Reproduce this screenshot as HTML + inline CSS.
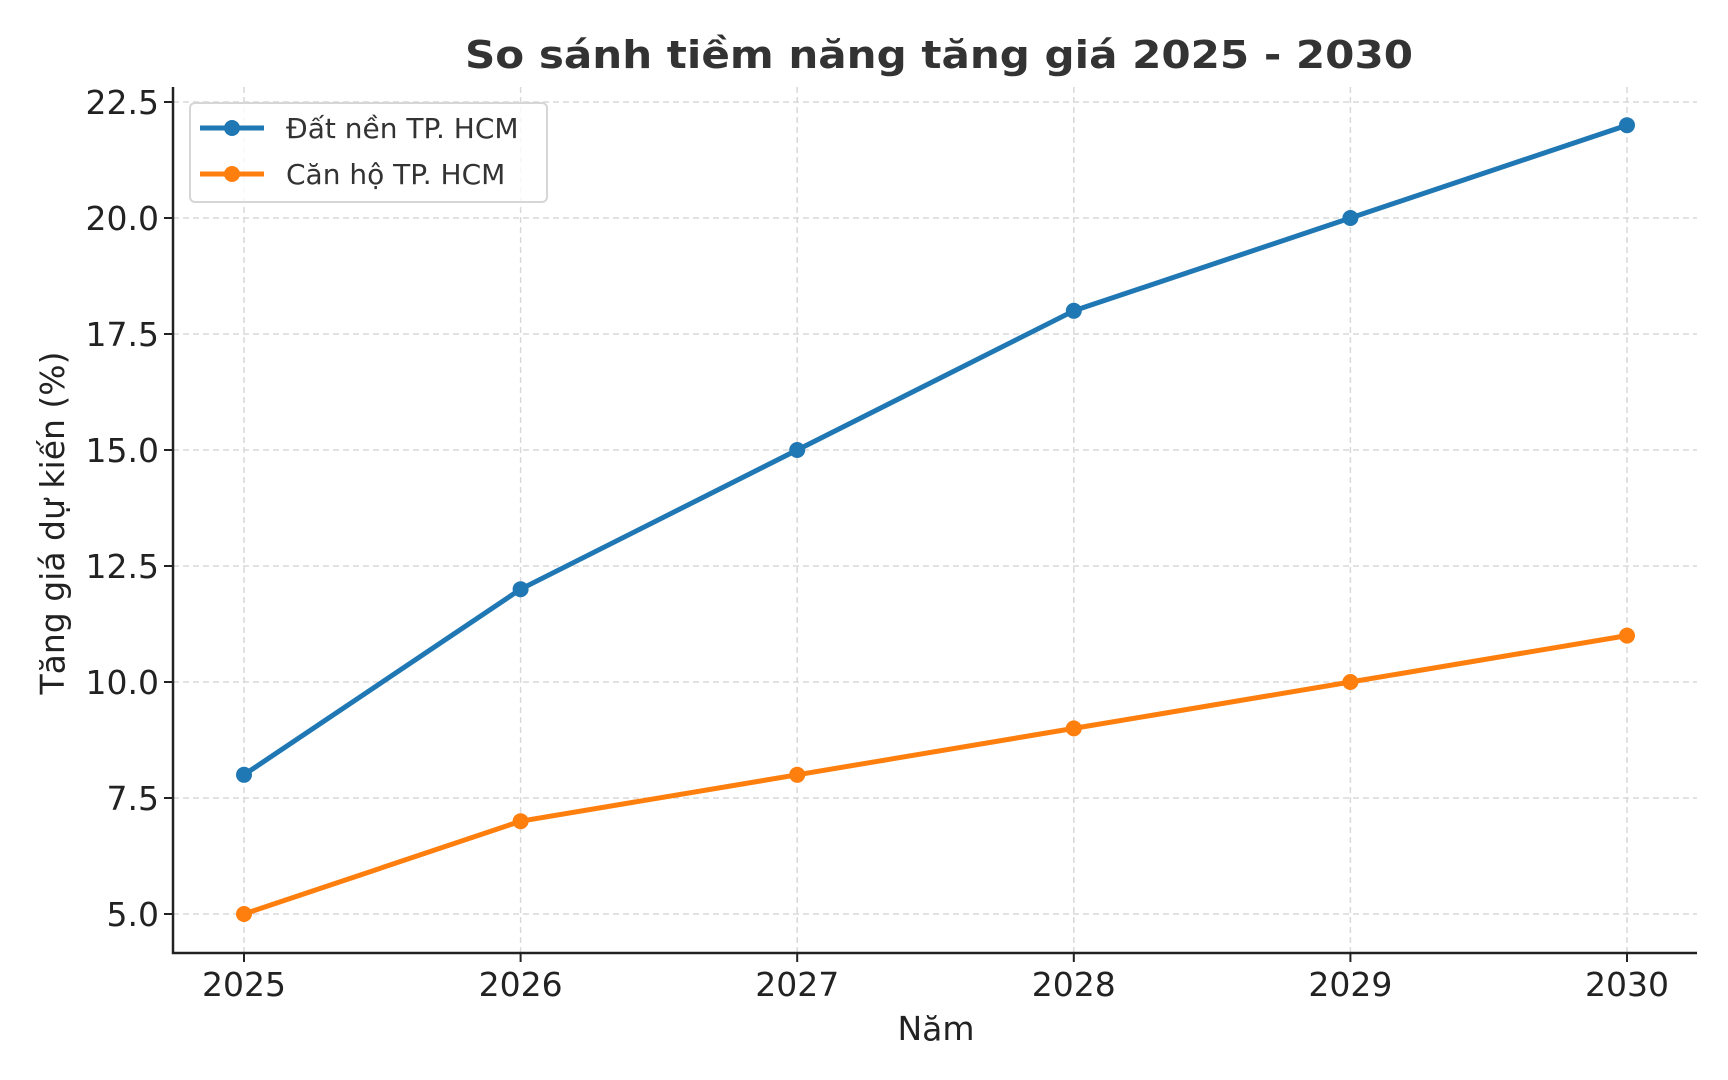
<!DOCTYPE html>
<html><head><meta charset="utf-8"><style>
html,body{margin:0;padding:0;background:#fff;}
svg{display:block;font-family:"DejaVu Sans","Liberation Sans",sans-serif;}
</style></head><body>
<svg id="chart" width="1728" height="1080" viewBox="0 0 1728 1080" xmlns="http://www.w3.org/2000/svg">
<text x="939" y="68" text-anchor="middle" font-size="38" font-weight="bold" fill="#333" textLength="948" lengthAdjust="spacingAndGlyphs">So sánh tiềm năng tăng giá 2025 - 2030</text>
<g id="grid"></g>
<g id="axes"></g>
<g id="series"></g>
<text x="936" y="1040" text-anchor="middle" font-size="33" fill="#222">Năm</text>
<text transform="translate(64,523) rotate(-90)" text-anchor="middle" font-size="33" fill="#222">Tăng giá dự kiến (%)</text>
<g>
<rect x="190" y="103" width="357" height="99" rx="5" fill="#fff" fill-opacity="0.8" stroke="#d6d6d6" stroke-width="2"/>
<g>
<line x1="200" y1="128" x2="264" y2="128" stroke="#1f77b4" stroke-width="5"/>
<circle cx="232" cy="128" r="8" fill="#1f77b4"/>
<text x="286" y="138" font-size="28" fill="#333">Đất nền TP. HCM</text>
</g>
<g>
<line x1="200" y1="174" x2="264" y2="174" stroke="#ff7f0e" stroke-width="5"/>
<circle cx="232" cy="174" r="8" fill="#ff7f0e"/>
<text x="286" y="184" font-size="28" fill="#333">Căn hộ TP. HCM</text>
</g>
</g>
</svg>
<script>
const years = [2025, 2026, 2027, 2028, 2029, 2030];
const datNen = [8, 12, 15, 18, 20, 22];
const canHo = [5, 7, 8, 9, 10, 11];
const yTicks = [5.0, 7.5, 10.0, 12.5, 15.0, 17.5, 20.0, 22.5];
const yTickLabels = ["5.0", "7.5", "10.0", "12.5", "15.0", "17.5", "20.0", "22.5"];

const NS = "http://www.w3.org/2000/svg";
const L = 173, R = 1697, T = 87, B = 953;
function xs(v){ return 244 + (v - 2025) * (1627 - 244) / 5; }
function ys(v){ return 914 - (v - 5) * (914 - 102) / 17.5; }
function mk(tag, attrs, parent){ const e = document.createElementNS(NS, tag); for (const k in attrs) e.setAttribute(k, attrs[k]); parent.appendChild(e); return e; }

const grid = document.getElementById('grid');
const axes = document.getElementById('axes');
const series = document.getElementById('series');

years.forEach(yr => {
  const g = mk('line', {x1: xs(yr), x2: xs(yr), y1: T, y2: B, stroke: '#d9d9d9', 'stroke-width': 1.5, 'stroke-dasharray': '6,4'}, grid);
  
  
  const t = mk('line', {x1: xs(yr), x2: xs(yr), y1: B, y2: B + 9, stroke: '#222', 'stroke-width': 2}, axes);
  
  
  const lb = mk('text', {x: xs(yr), y: 996, 'text-anchor': 'middle', 'font-size': 33, fill: '#222'}, axes);
  lb.textContent = yr;
  
  
});
yTicks.forEach((v, i) => {
  const g = mk('line', {x1: L, x2: R, y1: ys(v), y2: ys(v), stroke: '#d9d9d9', 'stroke-width': 1.5, 'stroke-dasharray': '6,4'}, grid);
  
  
  const t = mk('line', {x1: L - 9, x2: L, y1: ys(v), y2: ys(v), stroke: '#222', 'stroke-width': 2}, axes);
  
  
  const lb = mk('text', {x: L - 14, y: ys(v) + 12, 'text-anchor': 'end', 'font-size': 33, fill: '#222'}, axes);
  lb.textContent = yTickLabels[i];
  
  
});
const ax = mk('path', {d: `M${L},${T} V${B} H${R}`, fill: 'none', stroke: '#222', 'stroke-width': 2.5}, axes);



function drawSeries(vals, color, name){
  const p = mk('polyline', {points: vals.map((v, i) => xs(years[i]) + ',' + ys(v)).join(' '), fill: 'none', stroke: color, 'stroke-width': 5, 'stroke-linejoin': 'round'}, series);
  
  
  vals.forEach((v, i) => {
    const c = mk('circle', {cx: xs(years[i]), cy: ys(v), r: 8, fill: color}, series);
    
    
  });
}
drawSeries(datNen, '#1f77b4', 'dat-nen');
drawSeries(canHo, '#ff7f0e', 'can-ho');
</script>
</body></html>
